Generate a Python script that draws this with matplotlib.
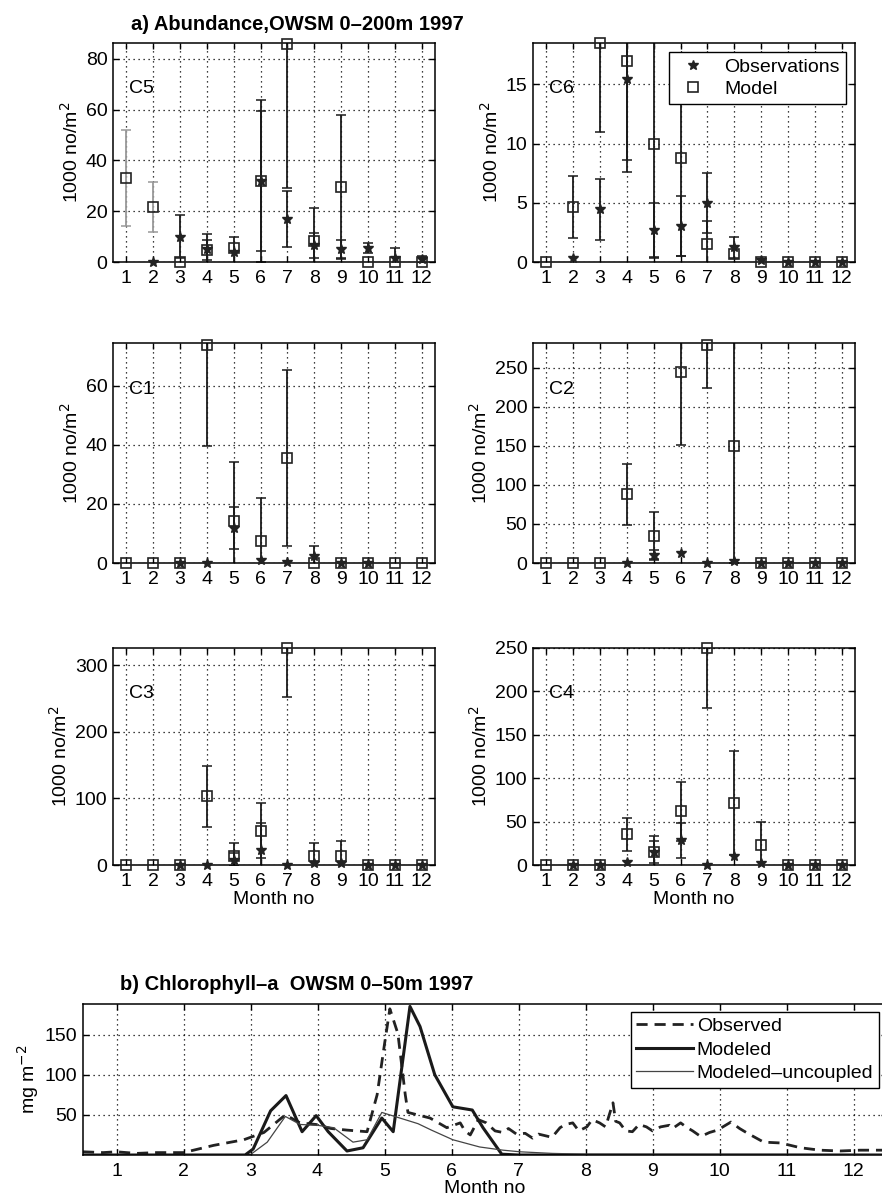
import numpy as np
import matplotlib
matplotlib.use("Agg")
import matplotlib.pyplot as plt
from matplotlib.ticker import MultipleLocator

plt.rcParams["font.family"] = ["Liberation Sans", "DejaVu Sans"]
plt.rcParams["font.size"] = 14

nan = np.nan
months = np.arange(1, 13)

# abundance per stage: observations and model, with error bars
c5_obs = [nan, 0, 10, 5, 4, 32, 17, 6.6, 5, 5.5, 1.5, 1]
c5_obs_err = [0, 0, 8.5, 6, 6, 27.5, 11, 5, 3.7, 2, 4, 1.5]
c5_mod = [33, 21.7, 0, 4.6, 5.7, 32, 86, 8.3, 29.7, 0, 0, 0]
c5_mod_err = [19, 9.8, 0, 4, 0, 32, 57, 13, 28.3, 0, 0, 0]

c6_obs = [nan, 0.3, 4.45, 15.5, 2.7, 3.05, 5, 1.25, 0.2, 0, 0, 0]
c6_obs_err = [0, 0, 2.6, 6.9, 2.3, 2.55, 2.55, 0.9, 0, 0, 0, 0]
c6_mod = [0, 4.65, 18.5, 17, 10, 8.8, 1.5, 0.7, 0, 0, 0, 0]
c6_mod_err = [0, 2.6, 7.5, 9.4, 9.7, 8.3, 2, 0, 0, 0, 0, 0]

c1_obs = [nan, nan, 0, 0, 11.9, 1, 0.5, 2.5, 0, 0, nan, nan]
c1_obs_err = [0, 0, 0, 0, 7, 0, 0, 3.4, 0, 0, 0, 0]
c1_mod = [0, 0, 0, 73.7, 14.2, 7.4, 35.5, 0, 0, 0, 0, 0]
c1_mod_err = [0, 0, 0, 34, 20, 14.5, 29.7, 0, 0, 0, 0, 0]

c2_obs = [nan, nan, nan, 0, 10.3, 12.5, 0, 2, 0, 0, 0, 0]
c2_obs_err = [0, 0, 0, 0, 6.5, 0, 0, 0, 0, 0, 0, 0]
c2_mod = [0, 0, 0, 88, 34.8, 244.8, 278.8, 150, 0, 0, 0, 0]
c2_mod_err = [0, 0, 0, 39, 30, 93, 54, 150, 0, 0, 0, 0]

c3_obs = [nan, nan, 0, 0, 8, 22.6, 0, 3, 3, 0, 0, 0]
c3_obs_err = [0, 0, 0, 0, 10, 40, 0, 0, 0, 0, 0, 0]
c3_mod = [0, 0, 0, 103, 14, 51.7, 326, 14, 14, 0, 0, 0]
c3_mod_err = [0, 0, 0, 46, 19, 41, 74, 19, 22, 0, 0, 0]

c4_obs = [nan, 0, 0, 3.8, 15, 28.4, 0, 10, 2, 0, 0, 0]
c4_obs_err = [0, 0, 0, 0, 13, 20, 0, 0, 0, 0, 0, 0]
c4_mod = [0, 0, 0, 35.3, 15.3, 62, 250, 71.7, 23, 0, 0, 0]
c4_mod_err = [0, 0, 0, 19, 18, 34, 69.4, 60, 27, 0, 0, 0]

# chlorophyll-a, 0-50 m
obs_t = [0.5, 0.8, 1.0, 1.3, 1.6, 2.0, 2.45, 2.9, 3.2, 3.52, 3.74, 3.98, 4.2, 4.44,
         4.74, 4.89, 5.0, 5.08, 5.2, 5.31, 5.35, 5.68, 5.93, 6.0, 6.13, 6.2, 6.28,
         6.4, 6.52, 6.65, 6.77, 6.85, 6.97, 7.1, 7.21, 7.3, 7.4, 7.5, 7.62, 7.7,
         7.81, 7.9, 8.02, 8.1, 8.21, 8.3, 8.41, 8.45, 8.51, 8.6, 8.7, 8.8, 8.91,
         9.0, 9.12, 9.25, 9.3, 9.42, 9.5, 9.6, 9.72, 9.85, 9.97, 10.17, 10.3,
         10.42, 10.66, 10.91, 11.21, 11.5, 11.8, 12.1, 12.5]
obs_v = [4, 3, 4, 2, 3, 3, 12, 19, 28, 50, 40, 38, 33, 31,
         29, 75, 138, 182, 151, 75, 53, 46, 34, 36, 40, 30, 25,
         44, 40, 30, 28, 33, 26, 27, 21, 26, 24, 22, 34, 38,
         40, 30, 35, 44, 40, 35, 65, 42, 40, 30, 29, 38, 35,
         30, 35, 37, 33, 40, 35, 30, 23, 28, 31, 41, 33,
         27, 16, 15, 9, 6, 5, 6, 6]
mod_t = [0.5, 2.92, 3.04, 3.30, 3.53, 3.77, 3.98, 4.16, 4.44, 4.68, 4.96, 5.13, 5.38,
         5.53, 5.75, 6.02, 6.31, 6.47, 6.75, 7.0, 12.5]
mod_v = [0, 0, 7.5, 55, 74, 29, 49, 29, 5, 9, 46, 29, 185,
         160, 100, 60, 56, 34, 1, 0, 0]
unc_t = [0.5, 3.0, 3.25, 3.52, 3.74, 4.0, 4.24, 4.53, 4.74, 4.96, 5.23, 5.5, 5.7,
         6.02, 6.42, 6.77, 7.02, 7.5, 8.0, 12.5]
unc_v = [0, 0.5, 16, 48, 38, 37, 34, 16, 19, 53, 46, 39, 31,
         19, 10, 6, 4, 2, 1, 0.5]

W, H = 882, 1203
fig = plt.figure(figsize=(W / 100, H / 100), dpi=100)


def box(l, t, r, b):
    return [l / W, 1 - b / H, (r - l) / W, (b - t) / H]


def style(ax):
    ax.tick_params(direction="in", top=True, right=True, length=4, width=1, pad=5.5)
    ax.tick_params(axis="y", pad=4)
    ax.grid(True, color="k", linestyle=(0, (1, 3)), linewidth=0.9)
    for s in ax.spines.values():
        s.set_linewidth(1.1)


panels = [
    ("C5", c5_obs, c5_obs_err, c5_mod, c5_mod_err, 86.3, 20, box(113, 43, 435, 262)),
    ("C6", c6_obs, c6_obs_err, c6_mod, c6_mod_err, 18.5, 5, box(533, 43, 855, 262)),
    ("C1", c1_obs, c1_obs_err, c1_mod, c1_mod_err, 74.5, 20, box(113, 343, 435, 563)),
    ("C2", c2_obs, c2_obs_err, c2_mod, c2_mod_err, 282, 50, box(533, 343, 855, 563)),
    ("C3", c3_obs, c3_obs_err, c3_mod, c3_mod_err, 326, 100, box(113, 648, 435, 865)),
    ("C4", c4_obs, c4_obs_err, c4_mod, c4_mod_err, 250, 50, box(533, 648, 855, 865)),
]

for name, obs, oerr, mod, merr, ytop, step, pos in panels:
    ax = fig.add_axes(pos)
    style(ax)
    obs = np.array(obs)
    mod = np.array(mod)
    ecol = ["#999999" if (name == "C5" and m <= 2) else "#1a1a1a" for m in months]
    for m, v, e, c in zip(months, mod, merr, ecol):
        if e > 0:
            ax.errorbar(m, v, yerr=e, fmt="none", ecolor=c, elinewidth=1.3, capsize=3.5,
                        capthick=1.1)
    for m, v, e in zip(months, obs, oerr):
        if e > 0:
            ax.errorbar(m, v, yerr=e, fmt="none", ecolor="#1a1a1a", elinewidth=1.3,
                        capsize=3.5, capthick=1.1)
    ax.plot(months, obs, "*", color="#222222", ms=7.5, clip_on=False, zorder=3,
            label="Observations")
    ax.plot(months, mod, "s", mfc="none", mec="#222222", mew=1.2, ms=6.5,
            clip_on=False, zorder=4, label="Model")
    ax.set_xlim(0.5, 12.5)
    ax.set_ylim(0, ytop)
    ax.set_xticks(months)
    ax.yaxis.set_major_locator(MultipleLocator(step))
    ax.set_ylabel("1000 no/m$^2$", labelpad=3)
    ax.text(0.05, 0.79, name, transform=ax.transAxes, va="center", ha="left")
    if name in ("C3", "C4"):
        ax.set_xlabel("Month no", labelpad=1)
    if name == "C6":
        ax.legend(loc="upper right", fancybox=False, edgecolor="k", framealpha=1,
                  borderaxespad=0.45, handletextpad=0.7, borderpad=0.35,
                  labelspacing=0.2, handlelength=1.8)

fig.text(297 / W, 1 - 24 / H, "a) Abundance,OWSM 0\u2013200m 1997", ha="center",
         va="center", fontweight="bold", fontsize=14.5)

# chlorophyll panel
ax = fig.add_axes(box(83, 1004, 887, 1155))
style(ax)
ax.plot(obs_t, obs_v, color="#222222", lw=2, linestyle=(0, (4, 2.5)), label="Observed")
ax.plot(mod_t, mod_v, color="#1a1a1a", lw=2.2, label="Modeled")
ax.plot(unc_t, unc_v, color="#444444", lw=0.9, label="Modeled\u2013uncoupled")
ax.set_xlim(0.5, 12.5)
ax.set_ylim(0, 188)
ax.set_xticks(months)
ax.set_yticks([50, 100, 150])
ax.set_ylabel("mg m$^{-2}$", labelpad=3)
ax.set_xlabel("Month no", labelpad=0)
ax.legend(loc="upper right", fancybox=False, edgecolor="k", framealpha=1,
          borderaxespad=0.4, handlelength=2.9, handletextpad=0.2, borderpad=0.3,
          labelspacing=0.3)

fig.text(297 / W, 1 - 985 / H, "b) Chlorophyll\u2013a  OWSM 0\u201350m 1997", ha="center",
         va="center", fontweight="bold", fontsize=14.5)

fig.savefig("out.png", dpi=100)
